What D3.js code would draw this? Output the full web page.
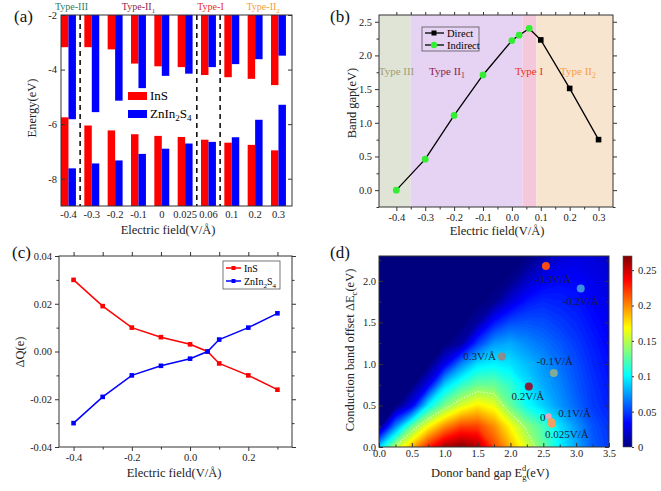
<!DOCTYPE html>
<html>
<head>
<meta charset="utf-8">
<script src="https://cdn.jsdelivr.net/npm/d3@7"></script>
<style>
body { margin: 0; background: #fff; }
svg { font-family: "Liberation Serif", "Times New Roman", serif; }
.axis path { display: none; }
.axis line { stroke: #333; }
.axis text { font-family: "Liberation Serif", serif; font-size: 10.5px; fill: #222; }
</style>
</head>
<body>
<svg id="fig" width="661" height="491"></svg>
<script>
// ---------- data ----------
// (a) band edges vs electric field
var fields = ["-0.4", "-0.3", "-0.2", "-0.1", "0", "0.025", "0.06", "0.1", "0.2", "0.3"];
var fieldRegion = [0, 1, 1, 1, 1, 1, 2, 3, 3, 3];
var insCBM = [-3.18, -3.18, -3.26, -3.78, -3.88, -3.91, -4.20, -4.28, -4.34, -4.57];
var znCBM  = [-5.82, -5.56, -5.14, -4.68, -4.23, -4.15, -3.91, -3.80, -3.62, -3.49];
var insVBM = [-5.75, -6.05, -6.23, -6.37, -6.43, -6.47, -6.57, -6.68, -6.76, -6.96];
var znVBM  = [-7.62, -7.44, -7.33, -7.09, -6.90, -6.71, -6.65, -6.48, -5.84, -5.29];
var dividers = [["-0.4", "-0.3"], ["0.025", "0.06"], ["0.06", "0.1"]];
var typeNames = ["Type-III", "Type-II", "Type-I", "Type-II"];
var typeSubs = ["", "1", "", "2"];
var typeAt = ["-0.4", "-0.1", "0.06", "0.2"];

// (b) band gap
var gapField = [-0.4, -0.3, -0.2, -0.1, 0, 0.025, 0.06, 0.1, 0.2, 0.3];
var gapValue = [0, 0.46, 1.11, 1.71, 2.22, 2.30, 2.40, 2.23, 1.51, 0.75];
var gapKind = ["ind", "ind", "ind", "ind", "ind", "ind", "ind", "dir", "dir", "dir"];
var regionFrom = [-0.46, -0.35, 0.037, 0.085];
var regionTo = [-0.35, 0.037, 0.085, 0.35];
var regionNames = ["Type III", "Type II", "Type I", "Type II"];

// (c) charge transfer
var qField = [-0.4, -0.3, -0.2, -0.1, 0, 0.06, 0.1, 0.2, 0.3];
var qInS = [0.030, 0.019, 0.010, 0.006, 0.003, 0.000, -0.005, -0.010, -0.016];
var qZn = [-0.030, -0.019, -0.010, -0.006, -0.003, 0.000, 0.005, 0.010, 0.016];

// (d) efficiency map, rows = conduction band offset, cols = donor gap
var egGrid = [0, 0.25, 0.5, 0.75, 1, 1.25, 1.5, 1.75, 2, 2.25, 2.5, 2.75, 3, 3.25, 3.5];
var decGrid = [0, 0.25, 0.5, 0.75, 1, 1.25, 1.5, 1.75, 2, 2.25, 2.5];
var pce = [
  [0.09, 0.15, 0.19, 0.23, 0.26, 0.27, 0.26, 0.22, 0.19, 0.16, 0.13, 0.10, 0.08, 0.06, 0.05],
  [0.00, 0.07, 0.13, 0.17, 0.20, 0.22, 0.22, 0.20, 0.17, 0.14, 0.12, 0.095, 0.075, 0.057, 0.048],
  [0, 0, 0.03, 0.10, 0.135, 0.16, 0.175, 0.165, 0.13, 0.105, 0.09, 0.075, 0.062, 0.05, 0.043],
  [0, 0, 0, 0.03, 0.09, 0.115, 0.13, 0.13, 0.115, 0.095, 0.08, 0.07, 0.058, 0.048, 0.04],
  [0, 0, 0, 0, 0.03, 0.07, 0.095, 0.10, 0.095, 0.085, 0.075, 0.065, 0.055, 0.045, 0.038],
  [0, 0, 0, 0, 0, 0.01, 0.05, 0.075, 0.08, 0.072, 0.065, 0.058, 0.05, 0.042, 0.035],
  [0, 0, 0, 0, 0, 0, 0.01, 0.04, 0.055, 0.057, 0.055, 0.05, 0.045, 0.038, 0.032],
  [0, 0, 0, 0, 0, 0, 0, 0.005, 0.025, 0.04, 0.045, 0.043, 0.04, 0.034, 0.029],
  [0, 0, 0, 0, 0, 0, 0, 0, 0.004, 0.02, 0.032, 0.036, 0.035, 0.03, 0.026],
  [0, 0, 0, 0, 0, 0, 0, 0, 0, 0.003, 0.015, 0.025, 0.028, 0.026, 0.022],
  [0, 0, 0, 0, 0, 0, 0, 0, 0, 0, 0.002, 0.012, 0.02, 0.021, 0.018]
];
var ptEg = [2.58, 2.62, 2.63, 2.54, 3.07, 1.87, 2.66, 2.28];
var ptDEc = [0.37, 0.30, 0.28, 2.18, 1.91, 1.09, 0.89, 0.73];
var ptLabel = ["0", "0.1V/Å", "0.025V/Å", "-0.3V/Å", "-0.2V/Å", "0.3V/Å", "-0.1V/Å", "0.2V/Å"];

// ---------- styles ----------
var regionTextColor = ["#2f7d62", "#8b1f52", "#e8302a", "#f39c3c"];
var bRegionFill = ["#dfe4d6", "#e6d3f3", "#f4c8da", "#f8e5cf"];
var bRegionText = ["#a29e76", "#8b1c4a", "#e8332c", "#f5a04a"];
var ptColor = ["#e9a6b8", "#f2a060", "#f2a060", "#ff4a14", "#3c8fe0", "#8c8c8c", "#80ab96", "#8a1c3c"];
var ptRadius = [3, 4, 4, 4, 4, 4, 4, 4];
var ptAnchor = ["end", "start", "middle", "middle", "middle", "end", "middle", "middle"];
var ptDx = [-3, 7, 15, 7, 0, -6, 1, -1];
var ptDy = [5, -5, 14, 17, 17, 4, -8, 14];

var svg = d3.select("#fig");
svg.append("rect").attr("width", 661).attr("height", 491).attr("fill", "#fff");

function fmt(p) {
  return function(d) { return d3.format(p)(d).replace("−", "-"); };
}

// frame with ticks on all four sides
function axes(g, x, y, o) {
  var inner = o.inward ? -1 : 1;
  var x0 = x.range()[0], x1 = x.range()[1], y0 = y.range()[0], y1 = y.range()[1];
  g.append("g").attr("class", "axis").attr("transform", "translate(0," + y0 + ")")
    .call(d3.axisBottom(x).tickValues(o.xt).tickFormat(o.xf).tickSizeInner(4 * inner).tickSizeOuter(0).tickPadding(3));
  g.append("g").attr("class", "axis").attr("transform", "translate(0," + y0 + ")")
    .call(d3.axisBottom(x).tickValues(o.xm).tickFormat("").tickSizeInner(2.5 * inner).tickSizeOuter(0));
  g.append("g").attr("class", "axis").attr("transform", "translate(0," + y1 + ")")
    .call(d3.axisTop(x).tickValues(o.xt.concat(o.xm)).tickFormat("").tickSizeInner(o.xTopSize * inner).tickSizeOuter(0));
  g.append("g").attr("class", "axis").attr("transform", "translate(" + x0 + ",0)")
    .call(d3.axisLeft(y).tickValues(o.yt).tickFormat(o.yf).tickSizeInner(4 * inner).tickSizeOuter(0).tickPadding(3));
  g.append("g").attr("class", "axis").attr("transform", "translate(" + x0 + ",0)")
    .call(d3.axisLeft(y).tickValues(o.ym).tickFormat("").tickSizeInner(2.5 * inner).tickSizeOuter(0));
  g.append("g").attr("class", "axis").attr("transform", "translate(" + x1 + ",0)")
    .call(d3.axisRight(y).tickValues(o.yt).tickFormat("").tickSizeInner(4 * inner).tickSizeOuter(0));
  g.append("g").attr("class", "axis").attr("transform", "translate(" + x1 + ",0)")
    .call(d3.axisRight(y).tickValues(o.ym).tickFormat("").tickSizeInner(2.5 * inner).tickSizeOuter(0));
  g.selectAll(".axis text").filter(function() { return this.textContent === ""; }).remove();
  g.append("rect").attr("x", x0).attr("y", y1).attr("width", x1 - x0).attr("height", y0 - y1)
    .attr("fill", "none").attr("stroke", "#333").attr("stroke-width", 1);
}

function title(g, txt, x, y, rot, size) {
  return g.append("text").attr("transform", "translate(" + x + "," + y + ")" + (rot ? " rotate(-90)" : ""))
    .attr("text-anchor", "middle").attr("font-size", size || 12.5).attr("fill", "#222").text(txt);
}
function panelTag(txt, x, y) {
  svg.append("text").attr("x", x).attr("y", y).attr("font-size", 17).attr("fill", "#111").text(txt);
}
// subscript s, then optional normal text back on the baseline
function sub(t, s, size, after) {
  t.append("tspan").attr("dy", 3).attr("font-size", size * 0.7).text(s);
  if (after) t.append("tspan").attr("dy", -3).text(after);
}

// ================= (a) =================
var ga = svg.append("g");
var xa = d3.scaleBand().domain(fields).range([61, 292]).paddingInner(0.36).paddingOuter(0.13).align(0);
var xa2 = d3.scaleBand().domain(["InS", "Zn"]).range([0, xa.bandwidth()]);
var ya = d3.scaleLinear().domain([-9, -2]).range([206, 15]);

var aRows = fields.map(function(f, i) {
  return { f: f, ic: insCBM[i], zc: znCBM[i], iv: insVBM[i], zv: znVBM[i] };
});
var grp = ga.selectAll("g.grp").data(aRows).enter().append("g")
  .attr("transform", function(d) { return "translate(" + xa(d.f) + ",0)"; });
grp.append("rect").attr("x", xa2("InS")).attr("width", xa2.bandwidth())
  .attr("y", ya(-2)).attr("height", function(d) { return ya(d.ic) - ya(-2); }).attr("fill", "#ff0000");
grp.append("rect").attr("x", xa2("Zn")).attr("width", xa2.bandwidth())
  .attr("y", ya(-2)).attr("height", function(d) { return ya(d.zc) - ya(-2); }).attr("fill", "#0000ff");
grp.append("rect").attr("x", xa2("InS")).attr("width", xa2.bandwidth())
  .attr("y", function(d) { return ya(d.iv); }).attr("height", function(d) { return ya(-9) - ya(d.iv); }).attr("fill", "#ff0000");
grp.append("rect").attr("x", xa2("Zn")).attr("width", xa2.bandwidth())
  .attr("y", function(d) { return ya(d.zv); }).attr("height", function(d) { return ya(-9) - ya(d.zv); }).attr("fill", "#0000ff");

// dashed separators
ga.selectAll("line.div").data(dividers).enter().append("line")
  .attr("x1", function(d) { return (xa(d[0]) + xa.bandwidth() + xa(d[1])) / 2; })
  .attr("x2", function(d) { return (xa(d[0]) + xa.bandwidth() + xa(d[1])) / 2; })
  .attr("y1", ya(-2)).attr("y2", ya(-9))
  .attr("stroke", "#111").attr("stroke-width", 1.6).attr("stroke-dasharray", "5,4");

// y axis + frame
ga.append("g").attr("class", "axis").attr("transform", "translate(61,0)")
  .call(d3.axisLeft(ya).tickValues([-2, -4, -6, -8]).tickFormat(fmt("d")).tickSizeInner(-4).tickSizeOuter(0).tickPadding(4))
  .selectAll("text").attr("font-size", 11.5);
ga.append("g").attr("class", "axis").attr("transform", "translate(292,0)")
  .call(d3.axisRight(ya).tickValues([-2, -4, -6, -8]).tickFormat("").tickSizeInner(-4).tickSizeOuter(0))
  .selectAll("text").remove();
ga.append("rect").attr("x", 61).attr("y", 15).attr("width", 231).attr("height", 191)
  .attr("fill", "none").attr("stroke", "#333");
var xaAx = ga.append("g").attr("class", "axis").attr("transform", "translate(0,206)")
  .call(d3.axisBottom(xa).tickSize(0).tickPadding(5));
xaAx.selectAll("text").attr("font-size", 10.5).attr("fill", function(d, i) { return regionTextColor[fieldRegion[i]]; });

// region names
typeNames.forEach(function(n, i) {
  var t = ga.append("text").attr("x", xa(typeAt[i]) + xa.bandwidth() / 2 + [3, 0, 2, 8][i]).attr("y", 10)
    .attr("text-anchor", "middle").attr("font-size", 10).attr("fill", regionTextColor[i]).text(n);
  if (typeSubs[i]) sub(t, typeSubs[i], 10);
});

// legend
var legA = [["InS", "#ff0000"], ["ZnIn", "#0000ff"]];
legA.forEach(function(d, i) {
  ga.append("rect").attr("x", 128).attr("y", 92 + i * 18).attr("width", 19).attr("height", 8).attr("fill", d[1]);
});
ga.append("text").attr("x", 150).attr("y", 100).attr("font-size", 13).text("InS");
var tz = ga.append("text").attr("x", 150).attr("y", 118).attr("font-size", 13).text("ZnIn");
sub(tz, "2", 13, "S"); sub(tz, "4", 13);

title(ga, "Energy(eV)", 36, 108, true);
title(ga, "Electric field(V/Å)", 168, 234);
panelTag("(a)", 14, 22);

// ================= (b) =================
var gb = svg.append("g");
var xb = d3.scaleLinear().domain([-0.46, 0.35]).range([379, 613]);
var yb = d3.scaleLinear().domain([-0.25, 2.6]).range([207, 15]);
gb.selectAll("rect.reg").data(regionFrom).enter().append("rect")
  .attr("x", function(d) { return xb(d); })
  .attr("width", function(d, i) { return xb(regionTo[i]) - xb(d); })
  .attr("y", 15).attr("height", 192).attr("fill", function(d, i) { return bRegionFill[i]; });
regionNames.forEach(function(n, i) {
  var t = gb.append("text").attr("x", [396.5, 447, 529, 578][i]).attr("y", 75)
    .attr("text-anchor", "middle").attr("font-size", 11).attr("fill", bRegionText[i]).text(n);
  if (typeSubs[i]) sub(t, typeSubs[i], 11);
});
var bPts = gapField.map(function(f, i) { return { x: f, y: gapValue[i], k: gapKind[i] }; });
gb.append("path").datum(bPts)
  .attr("d", d3.line().x(function(d) { return xb(d.x); }).y(function(d) { return yb(d.y); }))
  .attr("fill", "none").attr("stroke", "#000").attr("stroke-width", 1.3);
gb.selectAll("rect.dir").data(bPts.filter(function(d) { return d.k === "dir"; })).enter().append("rect")
  .attr("x", function(d) { return xb(d.x) - 2.8; }).attr("y", function(d) { return yb(d.y) - 2.8; })
  .attr("width", 5.6).attr("height", 5.6).attr("fill", "#000");
gb.selectAll("circle.ind").data(bPts.filter(function(d) { return d.k === "ind"; })).enter().append("circle")
  .attr("cx", function(d) { return xb(d.x); }).attr("cy", function(d) { return yb(d.y); })
  .attr("r", 3.4).attr("fill", "#33ee33");
axes(gb, xb, yb, {
  xt: [-0.4, -0.3, -0.2, -0.1, 0, 0.1, 0.2, 0.3], xm: [-0.35, -0.25, -0.15, -0.05, 0.05, 0.15, 0.25],
  xf: fmt(".1f"), yt: [0, 0.5, 1, 1.5, 2, 2.5], ym: [-0.25, 0.25, 0.75, 1.25, 1.75, 2.25], yf: fmt(".1f"), xTopSize: 3
});
// legend
gb.append("rect").attr("x", 422).attr("y", 27).attr("width", 57).attr("height", 24)
  .attr("fill", "none").attr("stroke", "#555").attr("stroke-width", 0.8);
gb.append("line").attr("x1", 425).attr("x2", 444).attr("y1", 33).attr("y2", 33).attr("stroke", "#000").attr("stroke-width", 1.3);
gb.append("rect").attr("x", 431.5).attr("y", 30.5).attr("width", 5).attr("height", 5).attr("fill", "#000");
gb.append("text").attr("x", 447).attr("y", 36.5).attr("font-size", 10.5).text("Direct");
gb.append("line").attr("x1", 425).attr("x2", 444).attr("y1", 45).attr("y2", 45).attr("stroke", "#000").attr("stroke-width", 1.3);
gb.append("circle").attr("cx", 434).attr("cy", 45).attr("r", 3.2).attr("fill", "#33ee33");
gb.append("text").attr("x", 447).attr("y", 48.5).attr("font-size", 10.5).text("Indirect");
title(gb, "Band gap(eV)", 356, 103, true);
title(gb, "Electric field(V/Å)", 497, 235);
panelTag("(b)", 330, 22);

// ================= (c) =================
var gc = svg.append("g");
var xc = d3.scaleLinear().domain([-0.45, 0.35]).range([59, 292]);
var yc = d3.scaleLinear().domain([-0.04, 0.04]).range([447, 256]);
axes(gc, xc, yc, {
  xt: [-0.4, -0.2, 0, 0.2], xm: [-0.3, -0.1, 0.1, 0.3], xf: fmt(".1f"),
  yt: [-0.04, -0.02, 0, 0.02, 0.04], ym: [-0.03, -0.01, 0.01, 0.03], yf: fmt(".2f"), xTopSize: 4
});
var series = [[qInS, "#ff0000"], [qZn, "#0000ff"]];
series.forEach(function(s) {
  var pts = qField.map(function(f, i) { return [f, s[0][i]]; });
  gc.append("path").datum(pts)
    .attr("d", d3.line().x(function(d) { return xc(d[0]); }).y(function(d) { return yc(d[1]); }))
    .attr("fill", "none").attr("stroke", s[1]).attr("stroke-width", 1.5);
  gc.selectAll(null).data(pts).enter().append("rect")
    .attr("x", function(d) { return xc(d[0]) - 2.3; }).attr("y", function(d) { return yc(d[1]) - 2.3; })
    .attr("width", 4.6).attr("height", 4.6).attr("fill", s[1]);
});
gc.append("rect").attr("x", 223).attr("y", 261).attr("width", 57).attr("height", 28)
  .attr("fill", "#fff").attr("stroke", "#555").attr("stroke-width", 0.8);
series.forEach(function(s, i) {
  var yy = 268 + i * 13;
  gc.append("line").attr("x1", 226).attr("x2", 241).attr("y1", yy).attr("y2", yy).attr("stroke", s[1]).attr("stroke-width", 1.5);
  gc.append("rect").attr("x", 231.5).attr("y", yy - 2).attr("width", 4).attr("height", 4).attr("fill", s[1]);
});
gc.append("text").attr("x", 244).attr("y", 271.5).attr("font-size", 10).text("InS");
var tz2 = gc.append("text").attr("x", 244).attr("y", 284.5).attr("font-size", 10).text("ZnIn");
sub(tz2, "2", 10, "S"); sub(tz2, "4", 10);
title(gc, "ΔQ(e)", 24, 352, true);
title(gc, "Electric field(V/Å)", 174, 477);
panelTag("(c)", 12, 258);

// ================= (d) =================
var gd = svg.append("g");
var xd = d3.scaleLinear().domain([0, 3.5]).range([379, 609]);
var yd = d3.scaleLinear().domain([0, 2.3]).range([447, 256]);
var vmax = 0.27;
var jet = d3.scaleLinear()
  .domain([0, 0.125, 0.375, 0.625, 0.875, 1].map(function(t) { return t * vmax; }))
  .range(["#00007f", "#0000ff", "#00ffff", "#ffff00", "#ff0000", "#7f0000"]).clamp(true);

svg.append("clipPath").attr("id", "clipD").append("rect")
  .attr("x", 379).attr("y", 256).attr("width", 230).attr("height", 191);
var nx = egGrid.length, ny = decGrid.length;
var flat = [];
pce.forEach(function(row) { row.forEach(function(v) { flat.push(v); }); });
var stepX = egGrid[1] - egGrid[0], stepY = decGrid[1] - decGrid[0];
var proj = d3.geoTransform({
  point: function(px, py) {
    this.stream.point(xd(egGrid[0] + (px - 0.5) * stepX), yd(decGrid[0] + (py - 0.5) * stepY));
  }
});
var path = d3.geoPath(proj);
var thresholds = d3.range(0, 0.2701, 0.0025);
var cont = d3.contours().size([nx, ny]).thresholds(thresholds)(flat);
var heat = gd.append("g").attr("clip-path", "url(#clipD)");
heat.append("rect").attr("x", 379).attr("y", 256).attr("width", 230).attr("height", 191).attr("fill", jet(0));
heat.selectAll("path.c").data(cont).enter().append("path")
  .attr("d", path).attr("fill", function(d) { return jet(d.value); });
var dotted = d3.contours().size([nx, ny]).thresholds([0.145])(flat);
heat.selectAll("path.w").data(dotted).enter().append("path")
  .attr("d", path).attr("fill", "none").attr("stroke", "#fff").attr("stroke-width", 1.1)
  .attr("stroke-dasharray", "1,2").attr("opacity", 0.85);

// points + labels
ptEg.forEach(function(e, i) {
  gd.append("circle").attr("cx", xd(e)).attr("cy", yd(ptDEc[i])).attr("r", ptRadius[i])
    .attr("fill", ptColor[i]);
});
ptEg.forEach(function(e, i) {
  gd.append("text").attr("x", xd(e) + ptDx[i]).attr("y", yd(ptDEc[i]) + ptDy[i])
    .attr("text-anchor", ptAnchor[i]).attr("font-size", 11).attr("fill", "#1c1c3c").text(ptLabel[i]);
});

axes(gd, xd, yd, {
  inward: true,
  xt: [0, 0.5, 1, 1.5, 2, 2.5, 3, 3.5], xm: [0.25, 0.75, 1.25, 1.75, 2.25, 2.75, 3.25], xf: fmt(".1f"),
  yt: [0, 0.5, 1, 1.5, 2], ym: [0.25, 0.75, 1.25, 1.75, 2.25], yf: fmt(".1f"), xTopSize: 0
});

// colorbar
var cb = d3.scaleLinear().domain([0, vmax]).range([447, 256]);
var grad = svg.append("defs").append("linearGradient").attr("id", "jetGrad")
  .attr("x1", 0).attr("y1", 1).attr("x2", 0).attr("y2", 0);
jet.domain().forEach(function(v) {
  grad.append("stop").attr("offset", v / vmax).attr("stop-color", jet(v));
});
gd.append("rect").attr("x", 623).attr("y", 256).attr("width", 9).attr("height", 191)
  .attr("fill", "url(#jetGrad)").attr("stroke", "#555").attr("stroke-width", 0.6);
gd.append("g").attr("class", "axis").attr("transform", "translate(632,0)")
  .call(d3.axisRight(cb).tickValues([0, 0.05, 0.1, 0.15, 0.2, 0.25]).tickFormat(d3.format("~g"))
    .tickSizeInner(2).tickSizeOuter(0).tickPadding(4));

var tx = title(gd, "Donor band gap E", 490, 477);
tx.append("tspan").attr("dy", 3).attr("font-size", 8.5).text("g");
tx.append("tspan").attr("dx", -4.5).attr("dy", -9).attr("font-size", 8.5).text("d");
tx.append("tspan").attr("dy", 6).text("(eV)");
var ty = title(gd, "Conduction band offset ΔE", 354, 350, true);
sub(ty, "c", 12.5, "(eV)");
panelTag("(d)", 330, 258);
</script>
</body>
</html>
